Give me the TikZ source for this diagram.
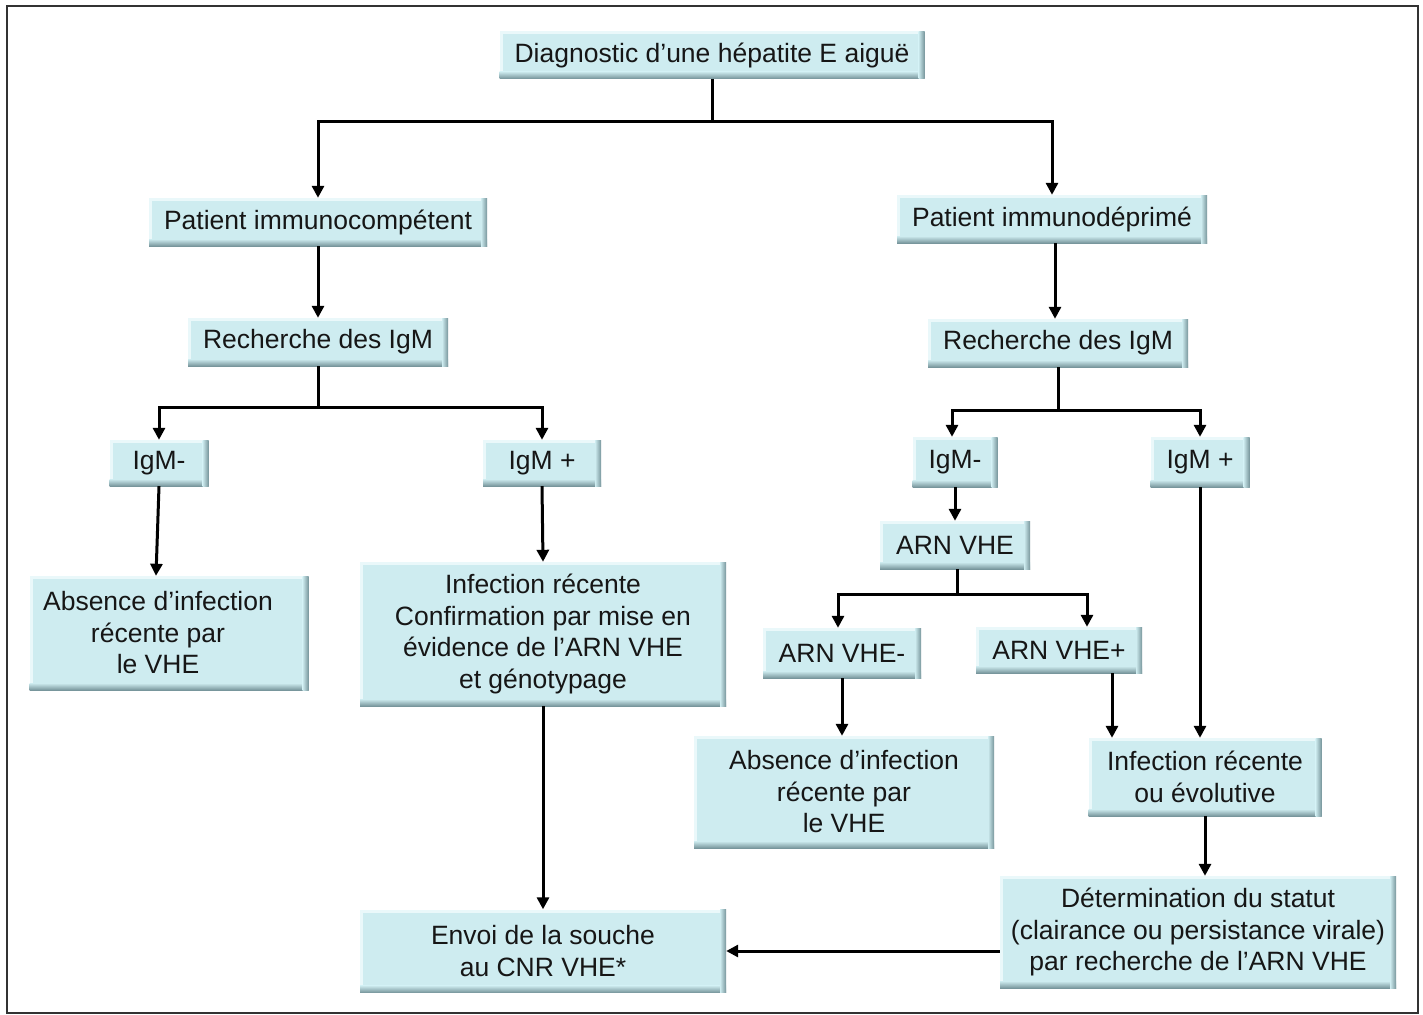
\documentclass[tikz,border=0pt]{standalone}
\usepackage{fontspec}
\setmainfont{Liberation Sans}
\usetikzlibrary{arrows.meta}
\definecolor{boxfill}{RGB}{206,236,240}
\definecolor{boxdark}{RGB}{120,150,156}
\definecolor{boxlight}{RGB}{234,248,250}
\definecolor{ink}{RGB}{22,22,22}
\definecolor{frame}{RGB}{50,50,50}

\tikzset{
  flowbox/.style={fill=boxfill, text=ink, inner sep=0pt, align=center,
    font=\fontsize{26.5}{31.5}\selectfont,
    path picture={
      \fill[boxlight] (path picture bounding box.north west) rectangle ([yshift=-3pt]path picture bounding box.north east);
      \fill[boxlight] (path picture bounding box.north west) rectangle ([xshift=3pt]path picture bounding box.south west);
      \shade[top color=boxfill, bottom color=boxdark] ([yshift=7pt]path picture bounding box.south west) rectangle (path picture bounding box.south east);
      \shade[left color=boxfill, right color=boxdark] ([xshift=-6pt]path picture bounding box.north east) rectangle (path picture bounding box.south east);
    }},
  link/.style={draw=black, line width=3pt},
  arr/.style={link, -{Triangle[length=12pt,width=12pt]}},
}

\begin{document}
\begin{tikzpicture}[x=1pt, y=-1pt]
\useasboundingbox (0,0) rectangle (1423,1014);
\fill[white] (0,0) rectangle (1423,1014);
\draw[frame, line width=2pt] (7,6) rectangle (1418,1013);

% boxes
\node[flowbox, minimum width=425pt, minimum height=47pt] (diag) at (712,55) {Diagnostic d’une hépatite E aiguë};
\node[flowbox, minimum width=338pt, minimum height=48pt] (pic) at (318,222) {Patient immunocompétent};
\node[flowbox, minimum width=310pt, minimum height=48pt] (pid) at (1052,219) {Patient immunodéprimé};
\node[flowbox, minimum width=260pt, minimum height=48pt] (rl) at (318,342) {Recherche des IgM};
\node[flowbox, minimum width=260pt, minimum height=48pt] (rr) at (1058,343) {Recherche des IgM};
\node[flowbox, minimum width=99pt, minimum height=46pt] (iml) at (159,463) {IgM-};
\node[flowbox, minimum width=118pt, minimum height=46pt] (ipl) at (542,463) {IgM +};
\node[flowbox, minimum width=85pt, minimum height=50pt] (imr) at (955,462) {IgM-};
\node[flowbox, minimum width=99pt, minimum height=50pt] (ipr) at (1200,462) {IgM +};
\node[flowbox, minimum width=150pt, minimum height=48pt] (arn) at (955,545) {ARN VHE};
\node[flowbox, minimum width=158pt, minimum height=50pt] (am) at (842,653) {ARN VHE-};
\node[flowbox, minimum width=166pt, minimum height=46pt] (ap) at (1059,650) {ARN VHE+};
\node[flowbox, minimum width=279pt, minimum height=114pt] (absl) at (169,633) {\hspace*{-22pt}Absence d’infection\\\hspace*{-22pt}récente par\\\hspace*{-22pt}le VHE};
\node[flowbox, minimum width=366pt, minimum height=144pt] (inf) at (543,634) {Infection récente\\Confirmation par mise en\\évidence de l’ARN VHE\\et génotypage};
\node[flowbox, minimum width=300pt, minimum height=112pt] (absm) at (844,792) {Absence d’infection\\récente par\\le VHE};
\node[flowbox, minimum width=233pt, minimum height=78pt] (ire) at (1205,777) {Infection récente\\ou évolutive};
\node[flowbox, minimum width=396pt, minimum height=112pt] (det) at (1198,932) {Détermination du statut\\(clairance ou persistance virale)\\par recherche de l’ARN VHE};
\node[flowbox, minimum width=366pt, minimum height=83pt] (env) at (543,951) {Envoi de la souche\\au CNR VHE*};

% branch points
\coordinate (j0) at (712,122);
\coordinate (j1) at (318,407);
\coordinate (j2) at (1058,410);
\coordinate (j3) at (957,594);

% connectors
\draw[link] (diag.south) -- (j0);
\draw[arr] (j0) -| (pic.north);
\draw[arr] (j0) -| (pid.north);
\draw[arr] (pic.south) -- (rl.north);
\draw[arr] ([xshift=3pt]pid.south) -- ([xshift=-3pt]rr.north);
\draw[link] (rl.south) -- (j1);
\draw[arr] (j1) -| (iml.north);
\draw[arr] (j1) -| (ipl.north);
\draw[link] (rr.south) -- (j2);
\draw[arr] (j2) -| ([xshift=-3pt]imr.north);
\draw[arr] (j2) -| (ipr.north);
\draw[arr] (iml.south) -- ([xshift=-13pt]absl.north);
\draw[arr] (ipl.south) -- (inf.north);
\draw[arr] (imr.south) -- (arn.north);
\draw[link] ([xshift=2pt]arn.south) -- (j3);
\draw[arr] (j3) -| ([xshift=-4pt]am.north);
\draw[arr] (j3) -| ([xshift=28pt]ap.north);
\draw[arr] (am.south) -- (am.south |- absm.north);
\draw[arr] ([xshift=53pt]ap.south) -- ([xshift=-93pt]ire.north);
\draw[arr] (ipr.south) -- (ipr.south |- ire.north);
\draw[arr] (ire.south) -- (ire.south |- det.north);
\draw[arr] (inf.south) -- (env.north);
\draw[arr] (det.west |- env.east) -- (env.east);
\end{tikzpicture}
\end{document}
